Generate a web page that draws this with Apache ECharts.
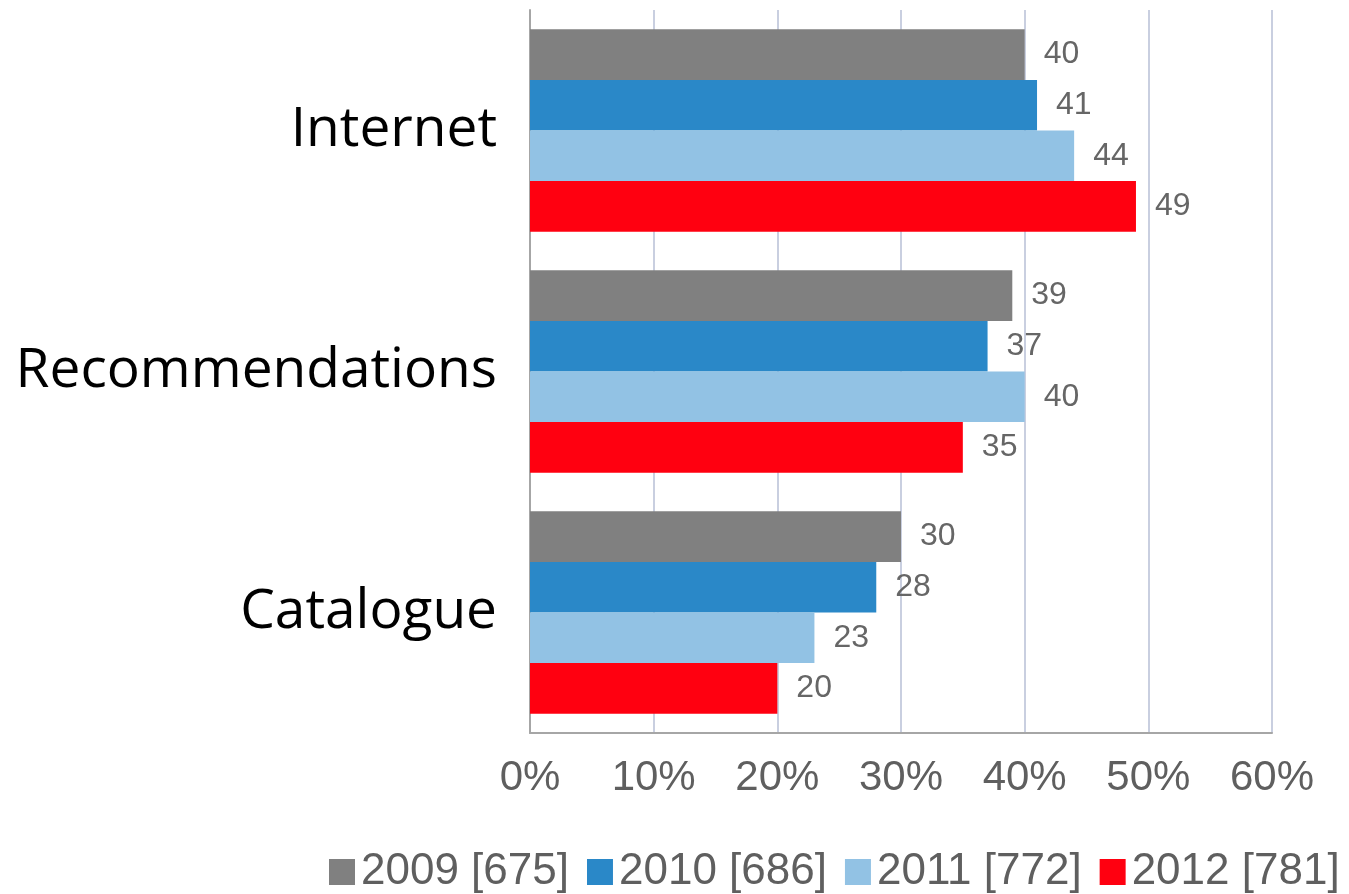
<!DOCTYPE html>
<html>
<head>
<meta charset="utf-8">
<script src="https://cdn.jsdelivr.net/npm/echarts@6/dist/echarts.min.js"></script>
<style>html,body{margin:0;padding:0;background:#fff}#c{width:1349px;height:894px}</style>
</head>
<body>
<div id="c"></div>
<script>
var categories = ['Internet', 'Recommendations', 'Catalogue'];
var seriesNames = ['2009 [675]', '2010 [686]', '2011 [772]', '2012 [781]'];
var v2009 = [40, 39, 30];
var v2010 = [41, 37, 28];
var v2011 = [44, 40, 23];
var v2012 = [49, 35, 20];
var colors = ['#808080', '#2a88c8', '#92c2e4', '#ff0010'];
var xTicks = [0, 10, 20, 30, 40, 50, 60];

var values = [v2009, v2010, v2011, v2012];
var chart = echarts.init(document.getElementById('c'));
chart.setOption({
  animation: false,
  grid: { left: 530, right: 77, top: 10, bottom: 161, containLabel: false },
  legend: {
    data: seriesNames,
    left: 324, top: 845,
    icon: 'rect', itemWidth: 26, itemHeight: 26, itemGap: 18,
    textStyle: { fontFamily: 'Liberation Sans', fontSize: 44, color: '#5f5f5f', padding: [0, 0, 0, 1] }
  },
  xAxis: {
    type: 'value', min: xTicks[0], max: xTicks[xTicks.length - 1], interval: 10,
    axisLine: { show: true, lineStyle: { color: '#a6a6a6', width: 2 } },
    axisTick: { show: false },
    splitLine: { show: true, lineStyle: { color: '#c9cfe0', width: 2 } },
    axisLabel: { formatter: '{value}%', fontFamily: 'Liberation Sans', fontSize: 42, color: '#5f5f5f', margin: 24 }
  },
  yAxis: {
    type: 'category', data: categories, inverse: true,
    axisLine: { show: true, lineStyle: { color: '#a6a6a6', width: 2 } },
    axisTick: { show: false },
    axisLabel: { fontFamily: 'Open Sans', fontSize: 55, color: '#000', margin: 33 }
  },
  series: seriesNames.map(function (n, i) {
    return {
      name: n, type: 'bar', data: values[i],
      barGap: '0%', barCategoryGap: '16%',
      itemStyle: { color: colors[i] },
      label: { show: true, position: 'right', distance: 19, fontFamily: 'Liberation Sans', fontSize: 32, color: '#666' }
    };
  })
});
</script>
</body>
</html>
